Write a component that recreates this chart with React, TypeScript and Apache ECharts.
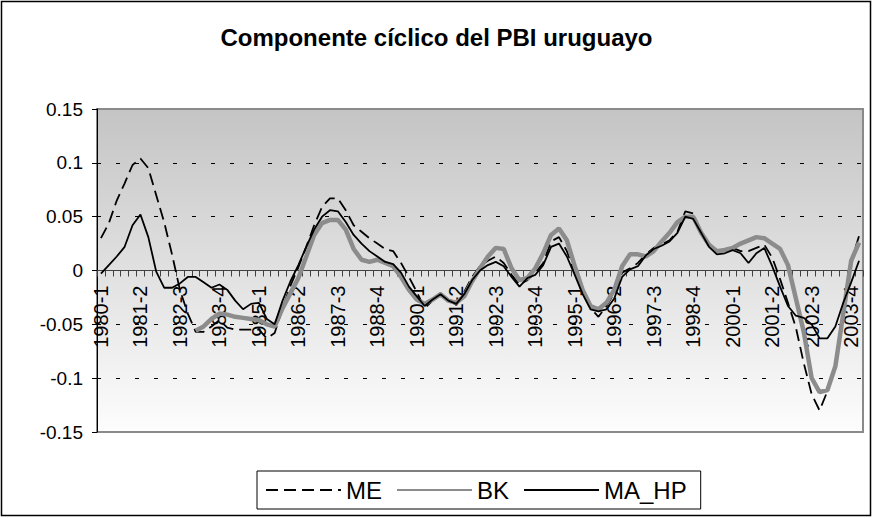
import React, { useEffect, useRef } from "react";
import * as echarts from "echarts";

const FONT = "'Liberation Sans', Arial, Helvetica, sans-serif";

const years: number[] = [1980, 1981, 1982, 1983, 1984, 1985, 1986, 1987, 1988, 1989, 1990, 1991, 1992, 1993, 1994, 1995, 1996, 1997, 1998, 1999, 2000, 2001, 2002, 2003, 2004];
const quarters: number[] = [1, 2, 3, 4];
const categories: string[] = [];
years.forEach((y) => quarters.forEach((q) => { if (y < 2004 || q === 1) categories.push(`${y}-${q}`); }));

const seriesNames: string[] = ["ME", "BK", "MA_HP"];

const ME: number[] = [
  0.030, 0.044, 0.065, 0.081, 0.098, 0.104, 0.095, 0.070, 0.045, 0.015,
  -0.018, -0.040, -0.057, -0.057, -0.052, -0.046, -0.053, -0.055, -0.055, -0.055,
  -0.055, -0.063, -0.058, -0.035, -0.014, 0.003, 0.022, 0.042, 0.059, 0.067,
  0.067, 0.056, 0.042, 0.036, 0.030, 0.025, 0.020, 0.018, 0.007, -0.006,
  -0.020, -0.035, -0.028, -0.021, -0.027, -0.032, -0.020, -0.006, 0.004, 0.009,
  0.013, 0.007, -0.004, -0.013, -0.009, -0.002, 0.007, 0.027, 0.031, 0.018,
  -0.002, -0.021, -0.035, -0.043, -0.033, -0.021, -0.002, 0.002, 0.007, 0.015,
  0.021, 0.024, 0.028, 0.036, 0.055, 0.053, 0.036, 0.025, 0.018, 0.018,
  0.021, 0.018, 0.018, 0.021, 0.024, 0.012, -0.008, -0.030, -0.053, -0.086,
  -0.115, -0.130, -0.112, -0.088, -0.040, 0.008, 0.032,
];

const BK: (number | null)[] = [
  null, null, null, null, null, null, null, null, null, null, null, null,
  -0.056, -0.052, -0.045, -0.040, -0.041, -0.043, -0.044, -0.045,
  -0.046, -0.050, -0.052, -0.035, -0.021, -0.007, 0.013, 0.033, 0.044, 0.047,
  0.047, 0.038, 0.020, 0.010, 0.008, 0.010, 0.007, 0.004, -0.006, -0.018,
  -0.027, -0.031, -0.027, -0.022, -0.028, -0.030, -0.024, -0.010, 0.002, 0.013,
  0.021, 0.020, 0.002, -0.009, -0.007, 0.002, 0.016, 0.033, 0.039, 0.028,
  0.004, -0.018, -0.033, -0.036, -0.030, -0.018, 0.004, 0.015, 0.015, 0.013,
  0.018, 0.027, 0.035, 0.045, 0.050, 0.050, 0.035, 0.024, 0.018, 0.019,
  0.021, 0.025, 0.028, 0.031, 0.030, 0.025, 0.020, 0.005, -0.026, -0.057,
  -0.100, -0.113, -0.111, -0.089, -0.040, 0.009, 0.026,
];

const MA_HP: number[] = [
  -0.003, 0.005, 0.013, 0.022, 0.042, 0.052, 0.031, -0.001, -0.016, -0.016,
  -0.012, -0.006, -0.006, -0.011, -0.016, -0.013, -0.018, -0.028, -0.036, -0.031,
  -0.030, -0.045, -0.050, -0.028, -0.010, 0.005, 0.022, 0.038, 0.050, 0.056,
  0.055, 0.045, 0.033, 0.025, 0.018, 0.013, 0.008, 0.006, -0.002, -0.015,
  -0.024, -0.033, -0.027, -0.022, -0.028, -0.031, -0.022, -0.009, 0.000, 0.005,
  0.008, 0.004, -0.006, -0.015, -0.007, -0.004, 0.005, 0.022, 0.025, 0.013,
  -0.004, -0.022, -0.036, -0.038, -0.036, -0.026, -0.006, 0.001, 0.004, 0.014,
  0.020, 0.023, 0.027, 0.035, 0.050, 0.048, 0.035, 0.022, 0.015, 0.016,
  0.019, 0.016, 0.007, 0.016, 0.021, 0.004, -0.015, -0.033, -0.042, -0.044,
  -0.050, -0.063, -0.063, -0.052, -0.030, -0.011, 0.009,
];

const GRID_TOP = 109;
const GRID_BOTTOM = 86;
const CHART_H = 518;

export default function App() {
  const ref = useRef<HTMLDivElement>(null);

  useEffect(() => {
    if (!ref.current) return;
    const chart = echarts.init(ref.current, undefined, { renderer: "svg" });
    const gridH = CHART_H - GRID_TOP - GRID_BOTTOM;
    const option: any = {
      animation: false,
      backgroundColor: "#ffffff",
      title: {
        text: "Componente cíclico del PBI uruguayo",
        left: "center",
        top: 20,
        textStyle: { fontFamily: FONT, fontSize: 24, fontWeight: "bold", color: "#000" },
      },
      graphic: [
        {
          type: "rect",
          silent: true,
          shape: { x: 1.5, y: 1.5, width: 869, height: 514 },
          style: { fill: "none", stroke: "#000", lineWidth: 1.5 },
          z: 100,
        },
      ],
      legend: {
        data: seriesNames,
        left: 257,
        top: 471,
        orient: "horizontal",
        itemWidth: 75,
        itemHeight: 2,
        itemGap: 14,
        padding: [7, 14, 7, 8],
        borderColor: "#000",
        borderWidth: 1,
        backgroundColor: "#fff",
        itemStyle: { opacity: 0, borderWidth: 0 },
        textStyle: { fontFamily: FONT, fontSize: 24, color: "#000" },
      },
      grid: {
        left: 97,
        right: 10,
        top: GRID_TOP,
        bottom: GRID_BOTTOM,
        show: true,
        backgroundColor: new echarts.graphic.LinearGradient(0, 0, 0, 1, [
          { offset: 0, color: "#c4c4c4" },
          { offset: 1, color: "#fdfdfd" },
        ]),
        borderColor: "#8a8a8a",
        borderWidth: 2,
      },
      xAxis: {
        type: "category",
        data: categories,
        boundaryGap: true,
        position: "bottom",
        offset: -gridH / 2,
        axisLine: { show: true, onZero: false, lineStyle: { color: "#404040", width: 1 } },
        axisTick: { show: true, interval: 0, length: 6, lineStyle: { color: "#404040" } },
        axisLabel: {
          interval: 4,
          rotate: 90,
          margin: 15,
          fontFamily: FONT,
          fontSize: 20,
          color: "#000",
        },
        splitLine: { show: false },
      },
      yAxis: {
        type: "value",
        min: -0.15,
        max: 0.15,
        interval: 0.05,
        axisLine: { show: true, lineStyle: { color: "#000", width: 1 } },
        axisTick: { show: true, length: 5, lineStyle: { color: "#000" } },
        axisLabel: {
          margin: 14,
          fontFamily: FONT,
          fontSize: 19,
          color: "#000",
          formatter: (v: number) => String(Number(v.toFixed(2))),
        },
        splitLine: {
          show: true,
          showMinLine: false,
          showMaxLine: false,
          lineStyle: { color: "#000", width: 1, type: [4, 15] },
        },
      },
      series: [
        {
          name: "ME",
          type: "line",
          data: ME,
          symbol: "none",
          lineStyle: { color: "#000", width: 1.8, type: [12, 6] },
          itemStyle: { color: "#000" },
          z: 2,
        },
        {
          name: "BK",
          type: "line",
          data: BK,
          symbol: "none",
          lineStyle: { color: "#8c8c8c", width: 4.5 },
          itemStyle: { color: "#8c8c8c" },
          z: 3,
        },
        {
          name: "MA_HP",
          type: "line",
          data: MA_HP,
          symbol: "none",
          lineStyle: { color: "#000", width: 1.8 },
          itemStyle: { color: "#000" },
          z: 4,
        },
      ],
    };
    chart.setOption(option);
    return () => chart.dispose();
  }, []);

  return (
    <div
      ref={ref}
      style={{ position: "fixed", left: 0, top: 0, width: 873, height: 518, background: "#fff" }}
    />
  );
}
